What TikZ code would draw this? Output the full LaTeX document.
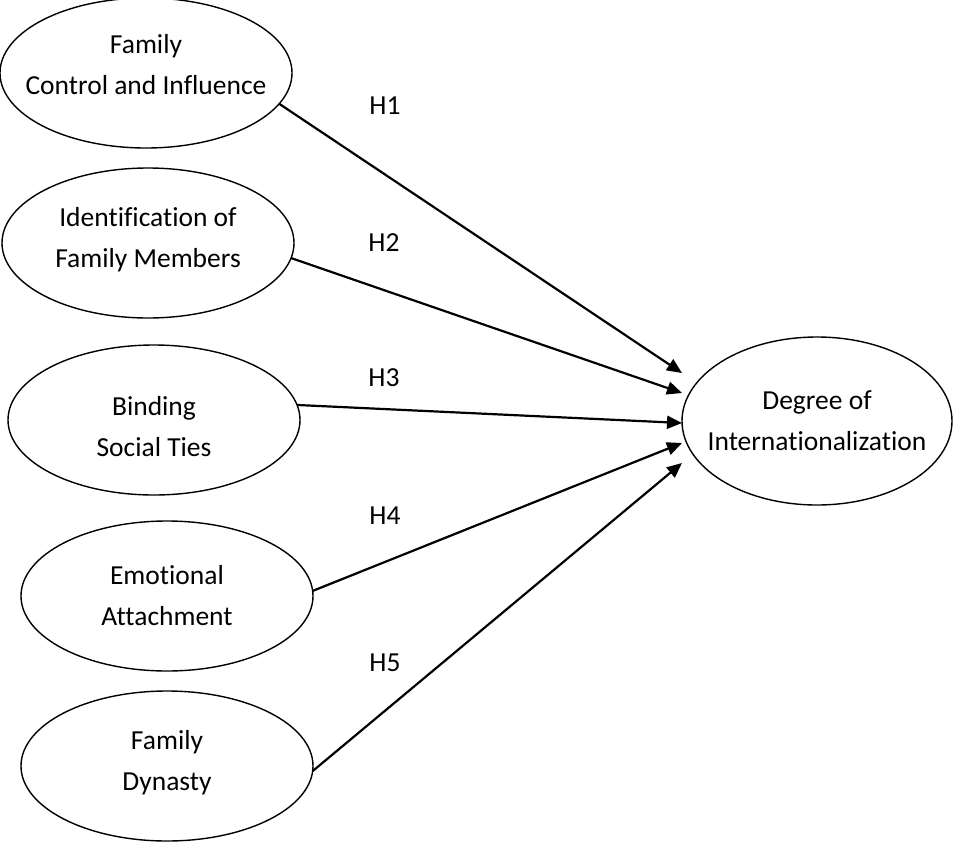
\documentclass[tikz,border=0pt]{standalone}
\usepackage{fontspec}
\setmainfont{Carlito}[Ligatures={NoCommon}]
\usetikzlibrary{arrows.meta,shapes.geometric}
\begin{document}
\begin{tikzpicture}[x=1pt,y=-1pt,
  factor/.style={ellipse,draw,line width=1.4pt,minimum width=292pt,minimum height=150pt,
    inner xsep=-90pt,inner ysep=0pt,outer sep=0pt,align=center,
    font=\fontsize{27.5}{41}\selectfont},
  textup/.style={execute at end node={\rule[-#1]{0pt}{#1}}},
  textdown/.style={execute at begin node={\rule{0pt}{#1}}},
  hyp/.style={-{Triangle[length=15pt,width=13pt]},line width=2.2pt},
  hlabel/.style={font=\fontsize{27.5}{33}\selectfont,inner sep=0pt}]
\useasboundingbox (0,0) rectangle (953,841);
\node[factor,textup=18pt] (e1) at (146,73) {Family\\Control and Influence};
\node[factor,textup=11pt] (e2) at (148,243) {Identification of\\Family Members};
\node[factor,textdown=73pt] (e3) at (154,420) {Binding\\Social Ties};
\node[factor] (e4) at (167,596) {Emotional\\Attachment};
\node[factor,textup=11pt] (e5) at (167,766) {Family\\Dynasty};
\node[factor,minimum width=270pt,minimum height=168pt] (e6) at (817,421) {Degree of\\Internationalization};
\coordinate (t1) at ([yshift=48pt]e6.west);
\coordinate (t2) at ([yshift=28pt]e6.west);
\coordinate (t3) at ([yshift=-2pt]e6.west);
\coordinate (t4) at ([yshift=-22pt]e6.west);
\coordinate (t5) at ([yshift=-42pt]e6.west);
\draw[hyp] (e1.-13) -- (t1);
\draw[hyp] (e2.-6) -- (t2);
\draw[hyp] (e3.6) -- (t3);
\draw[hyp] (e4.2) -- (t4);
\draw[hyp] (e5.-2) -- (t5);
\node[hlabel] (h1) at (385,106) {H1};
\node[hlabel] (h2) at (384,243) {H2};
\node[hlabel] (h3) at (384,378) {H3};
\node[hlabel] (h4) at (385,516) {H4};
\node[hlabel] (h5) at (385,663) {H5};
\end{tikzpicture}
\end{document}
